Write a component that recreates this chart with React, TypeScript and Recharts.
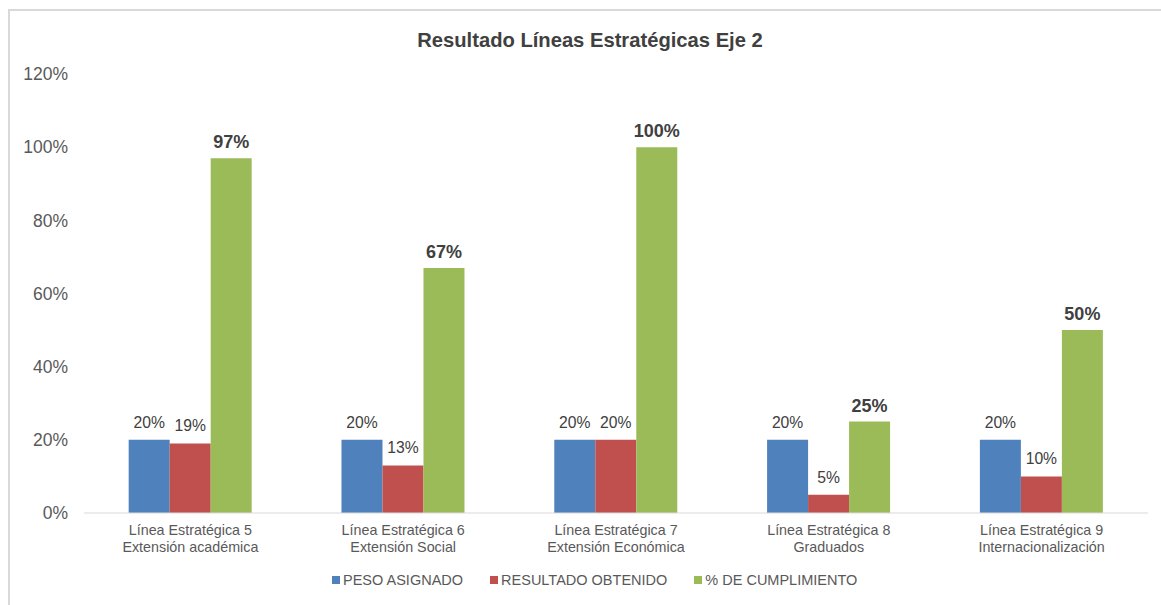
import { BarChart, Bar, XAxis, YAxis, LabelList } from "recharts";

const categories = [
  "Línea Estratégica 5\nExtensión académica",
  "Línea Estratégica 6\nExtensión Social",
  "Línea Estratégica 7\nExtensión Económica",
  "Línea Estratégica 8\nGraduados",
  "Línea Estratégica 9\nInternacionalización",
];
const pesoAsignado = [20, 20, 20, 20, 20];
const resultadoObtenido = [19, 13, 20, 5, 10];
const cumplimiento = [97, 67, 100, 25, 50];
const yTicks = [0, 20, 40, 60, 80, 100, 120];

const series = [
  { key: "peso", name: "PESO ASIGNADO", color: "#4F81BD" },
  { key: "resultado", name: "RESULTADO OBTENIDO", color: "#C0504D" },
  { key: "cumplimiento", name: "% DE CUMPLIMIENTO", color: "#9BBB59" },
];

const data = categories.map((c, i) => ({
  name: c,
  peso: pesoAsignado[i],
  resultado: resultadoObtenido[i],
  cumplimiento: cumplimiento[i],
}));

const FONT = "'Liberation Sans', Arial, sans-serif";
const pct = (v: any) => `${v}%`;

function CategoryTick({ x, y, payload }: any) {
  const lines = String(payload.value).split("\n");
  return (
    <text x={x} y={y} textAnchor="middle" fill="#595959" fontSize={14.3} fontFamily={FONT}>
      {lines.map((l, i) => (
        <tspan key={i} x={x} y={y + 22 + i * 17}>
          {l}
        </tspan>
      ))}
    </text>
  );
}

export default function App() {
  return (
    <div style={{ position: "absolute", left: 0, top: 0, width: 1161, height: 605, background: "#fff", overflow: "hidden" }}>
      <div
        style={{
          position: "absolute",
          left: 8,
          top: 9,
          width: 1170,
          height: 610,
          borderLeft: "2px solid #d9d9d9",
          borderTop: "2px solid #d9d9d9",
        }}
      />
      <div
        style={{
          position: "absolute",
          left: 0,
          top: 29,
          width: 1180,
          textAlign: "center",
          fontFamily: FONT,
          fontWeight: "bold",
          fontSize: 20.2,
          color: "#404040",
        }}
      >
        Resultado Líneas Estratégicas Eje 2
      </div>
      <div style={{ position: "absolute", left: 0, top: 0 }}>
        <BarChart
          width={1161}
          height={605}
          data={data}
          margin={{ top: 74, right: 13, left: 0, bottom: 0 }}
          barCategoryGap="21%"
          barGap={0}
        >
          <XAxis
            dataKey="name"
            height={92}
            tickLine={false}
            tickSize={0}
            tickMargin={0}
            axisLine={{ stroke: "#d9d9d9" }}
            tick={<CategoryTick />}
            interval={0}
          />
          <YAxis
            width={84}
            domain={[0, 120]}
            ticks={yTicks}
            tickFormatter={pct}
            axisLine={false}
            tickLine={false}
            tickSize={0}
            tickMargin={16}
            tick={{ fill: "#595959", fontSize: 17.5, fontFamily: FONT }}
          />
          <Bar dataKey="peso" fill="#4F81BD" isAnimationActive={false}>
            <LabelList dataKey="peso" position="top" offset={12} formatter={pct} fill="#404040" fontSize={15.7} fontFamily={FONT} />
          </Bar>
          <Bar dataKey="resultado" fill="#C0504D" isAnimationActive={false}>
            <LabelList dataKey="resultado" position="top" offset={12} formatter={pct} fill="#404040" fontSize={15.7} fontFamily={FONT} />
          </Bar>
          <Bar dataKey="cumplimiento" fill="#9BBB59" isAnimationActive={false}>
            <LabelList
              dataKey="cumplimiento"
              position="top"
              offset={10}
              formatter={pct}
              fill="#404040"
              fontSize={18}
              fontWeight="bold"
              fontFamily={FONT}
            />
          </Bar>
        </BarChart>
      </div>
      <div
        style={{
          position: "absolute",
          left: 332,
          top: 572,
          display: "flex",
          gap: 27,
          fontFamily: FONT,
          fontSize: 14.5,
          color: "#595959",
          lineHeight: "16px",
        }}
      >
        {series.map((s) => (
          <div key={s.key} style={{ display: "flex", alignItems: "center" }}>
            <span style={{ display: "inline-block", width: 8, height: 8, background: s.color, marginRight: 3 }} />
            <span>{s.name}</span>
          </div>
        ))}
      </div>
    </div>
  );
}
